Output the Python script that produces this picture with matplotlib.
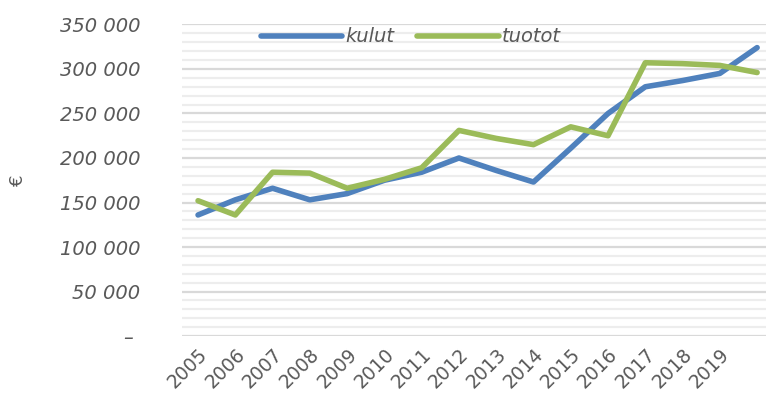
import matplotlib
matplotlib.use("Agg")
import matplotlib.pyplot as plt
from matplotlib.ticker import FuncFormatter, MultipleLocator

# ── Data ───────────────────────────────────────────────────────────────────────
years  = ["2005", "2006", "2007", "2008", "2009", "2010", "2011", "2012",
          "2013", "2014", "2015", "2016", "2017", "2018", "2019", ""]
kulut  = [136000, 153000, 166000, 153000, 160000, 175000, 184000, 200000,
          186000, 173000, 211000, 250000, 280000, 287000, 295000, 324000]
tuotot = [152000, 136000, 184000, 183000, 166000, 176000, 189000, 231000,
          222000, 215000, 235000, 225000, 307000, 306000, 304000, 296000]

# ── Style ──────────────────────────────────────────────────────────────────────
BLUE  = "#4F81BD"; GREEN = "#9BBB59"; TXT = "#595959"
MAJ   = "#D9D9D9"; MIN   = "#EDEDED"
FONT  = "DejaVu Sans"

fig = plt.figure(figsize=(7.68, 4.01), dpi=100, facecolor="white")
ax  = fig.add_axes([0.237, 0.162, 0.76, 0.777])

x = range(len(years))
ax.plot(x, kulut,  color=BLUE,  lw=4.0, solid_capstyle="round", label="kulut", zorder=3)
ax.plot(x, tuotot, color=GREEN, lw=4.0, solid_capstyle="round", label="tuotot", zorder=3)

ax.set_xlim(-0.43, 15.23)
ax.set_ylim(0, 350000)
ax.yaxis.set_major_locator(MultipleLocator(50000))
ax.yaxis.set_minor_locator(MultipleLocator(10000))
ax.grid(which="major", axis="y", color=MAJ, lw=1.6, zorder=1)
ax.grid(which="minor", axis="y", color=MIN, lw=1.6, zorder=0)
for s in ax.spines.values(): s.set_visible(False)

def fmt(v, pos):
    if v == 0: return "– "
    return f"{int(v):,}".replace(",", " ")
ax.yaxis.set_major_formatter(FuncFormatter(fmt))
ax.tick_params(axis="y", which="both", length=0, pad=30)
ax.tick_params(axis="x", length=0, pad=6)
for lab in ax.get_yticklabels():
    lab.set_fontfamily(FONT); lab.set_fontstyle("italic"); lab.set_fontsize(14); lab.set_color(TXT)

ax.set_xticks(list(x))
ax.set_xticklabels(years, rotation=45, ha="right", va="top", rotation_mode="anchor",
                   family=FONT, fontsize=13.5, color=TXT)

fig.text(0.024, 0.55, "€", rotation=90, ha="center", va="center",
         fontsize=13, color=TXT, family=FONT)

leg = ax.legend(loc="center", bbox_to_anchor=(0.392, 0.96), ncol=2, frameon=False,
                handlelength=4.2, handletextpad=0.15, columnspacing=1.2,
                prop={"family": FONT, "style": "italic", "size": 14})
for t in leg.get_texts(): t.set_color(TXT)

fig.savefig("out.png", dpi=100, facecolor="white")
